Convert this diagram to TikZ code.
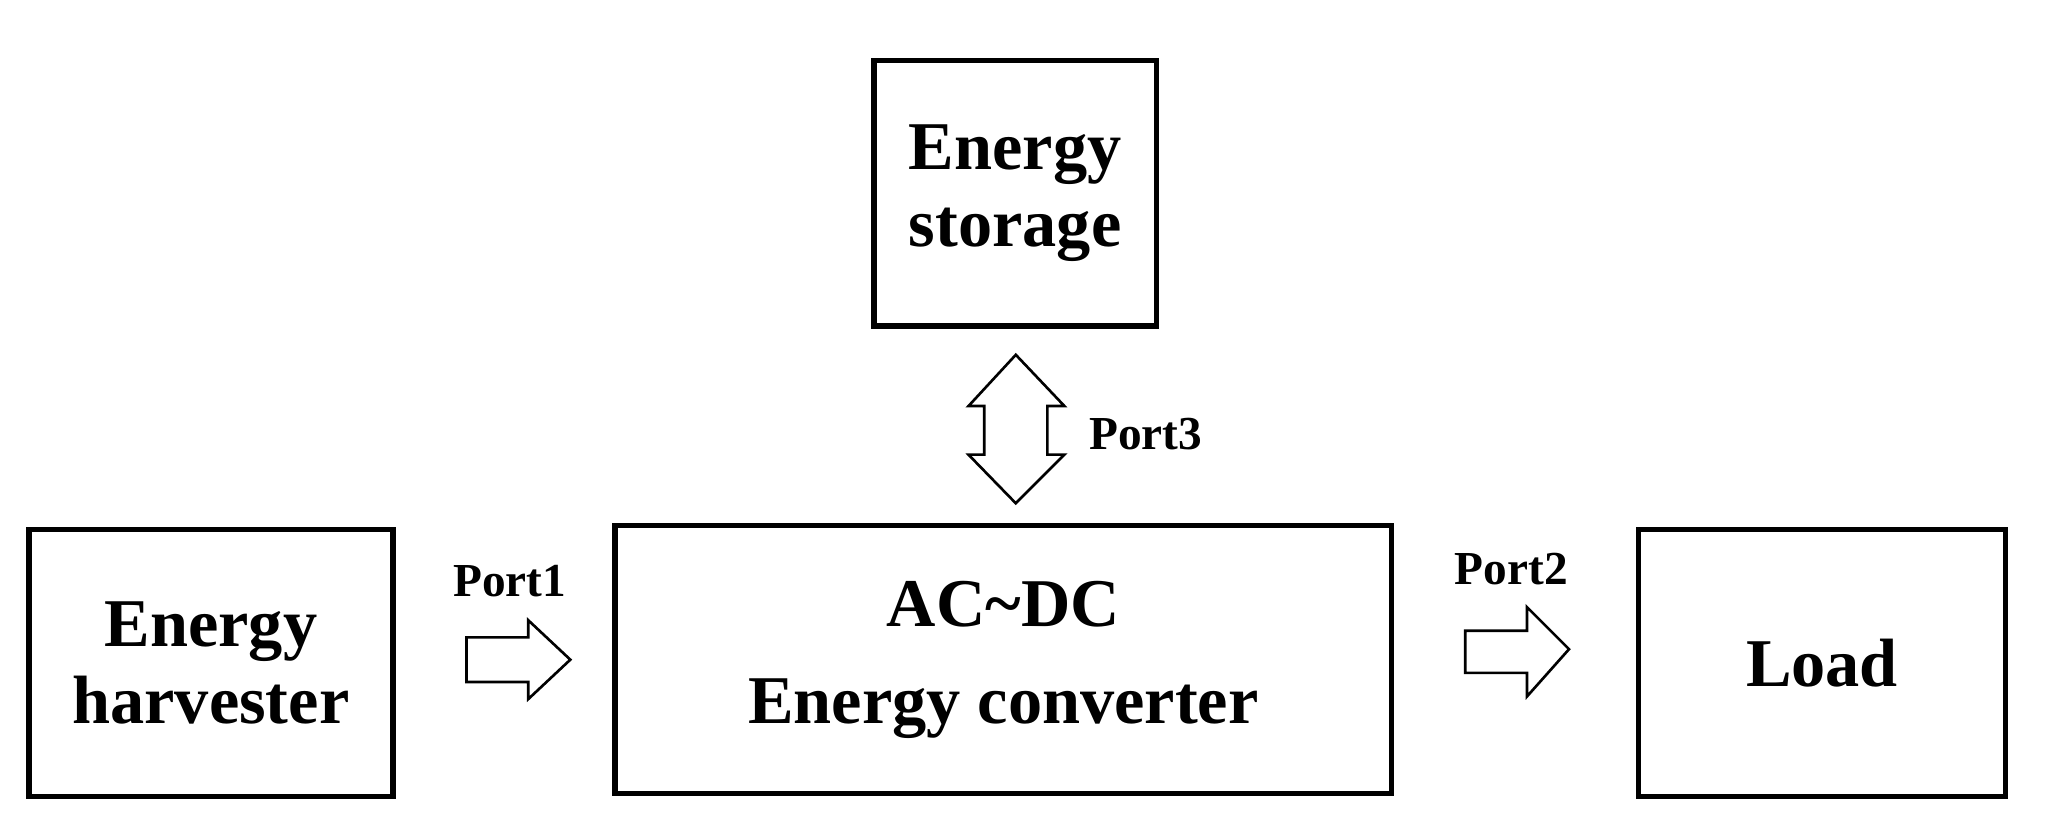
\documentclass[tikz,border=0pt]{standalone}
\usepackage{fontspec}
\setmainfont{Liberation Serif}
\begin{document}
\begin{tikzpicture}[x=0.5pt,y=-0.5pt,
  box/.style={draw,line width=2pt,inner sep=0pt},
  lab/.style={font=\bfseries\fontsize{26}{31}\selectfont,align=center},
  port/.style={font=\bfseries\fontsize{18}{21}\selectfont},
  harrow/.style={draw,line width=1pt,fill=white}]
\useasboundingbox (0,0) rectangle (1560,630);
\node[box,minimum width=215pt*0.5,minimum height=202pt*0.5] (st) at (772.5,147) {};
\node[box,minimum width=277pt*0.5,minimum height=203pt*0.5] (eh) at (160.5,504.5) {};
\node[box,minimum width=591pt*0.5,minimum height=204pt*0.5] (cv) at (763.5,502) {};
\node[box,minimum width=279pt*0.5,minimum height=203pt*0.5] (ld) at (1386.5,504.5) {};
\node[lab] (stt) at (st) {Energy\\[-2pt]storage};
\node[lab] (eht) at (eh) {Energy\\[-2pt]harvester};
\node[lab,align=center] (cvt) at (cv) {AC\char`~DC\\[6pt]Energy converter};
\node[lab] (ldt) at (ld) {Load};
% Port1 arrow
\coordinate (p1) at (355,502);
\draw[harrow] (p1) ++(0,-17) -- ++(47,0) -- ++(0,-13) -- (434,502) -- (402,532) -- ++(0,-13) -- (355,519) -- cycle;
\node[port] (p1t) at (388,442) {Port1};
% Port2 arrow
\coordinate (p2) at (1115,494);
\draw[harrow] (p2) ++(0,-14) -- ++(47,0) -- ++(0,-18) -- (1194,494) -- (1162,530) -- ++(0,-18) -- (1115,512) -- cycle;
\node[port] (p2t) at (1150,433) {Port2};
% Port3 double arrow
\coordinate (p3) at (773,326);
\draw[harrow] (773,270) -- (810,309) -- (797,309) -- (797,346) -- (810,346) -- (773,383) -- (737,346) -- (749,346) -- (749,309) -- (737,309) -- cycle;
\node[port] (p3t) at (872,330) {Port3};
\end{tikzpicture}
\end{document}
